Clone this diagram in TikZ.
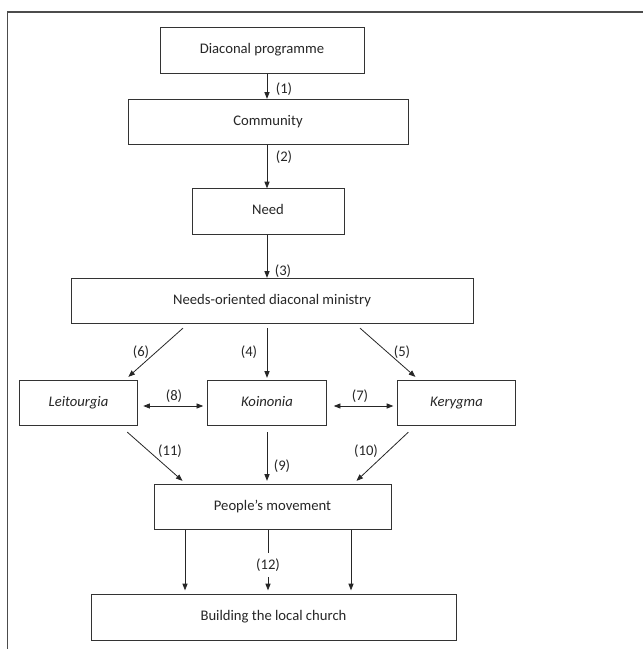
\documentclass[tikz,border=0pt]{standalone}
\usepackage{fontspec}
\setmainfont{Carlito}
\usetikzlibrary{arrows.meta,calc,positioning}

\begin{document}
\begin{tikzpicture}[
    x=0.75pt, y=-0.75pt,
    every node/.style={font=\fontsize{11}{13}\selectfont, text=black!85},
    box/.style={draw=black!80, line width=0.7pt, minimum height=34pt, inner sep=0pt,
        text height=7.5pt, text depth=2.5pt, align=center},
    lbl/.style={inner sep=1pt},
    arrow/.style={-{Triangle[length=5pt,width=3.8pt]}, line width=0.6pt, draw=black!85},
    twoway/.style={{Triangle[length=5pt,width=3.8pt]}-{Triangle[length=5pt,width=3.8pt]}, line width=0.6pt, draw=black!85}
]
    \useasboundingbox (0,0) rectangle (643,649);
    % open frame
    \draw[black!70, line width=1.1pt] (7.5,649) -- (7.5,12) -- (643,12);
    \coordinate (axis) at (267,0);

    % Chain
    \node[box, minimum width=153pt] (prog) at (262,50.5) {Diaconal programme};
    \node[box, minimum width=210pt] (comm) at (268,122) {Community};
    \node[box, minimum width=114pt] (need) at (268,211.5) {Need};
    \node[box, minimum width=301.5pt] (ndm) at (272,301) {Needs-oriented diaconal ministry};

    % Three ministries
    \node[box, minimum width=89pt] (leit) at (78.5,403) {\textit{Leitourgia}};
    \node[box, minimum width=89pt] (koin) at (267,403) {\textit{Koinonia}};
    \node[box, minimum width=88pt] (kery) at (456.5,403) {\textit{Kerygma}};

    % Outcome
    \node[box, minimum width=177.75pt] (ppl) at (272.5,507) {People’s movement};
    \node[box, minimum width=273.75pt] (build) at (273.5,617.5) {Building the local church};

    % Labels
    \node[lbl] (l1) at (284,89) {(1)};
    \node[lbl] (l2) at (284,157) {(2)};
    \node[lbl] (l3) at (283,271) {(3)};
    \node[lbl] (l6) at (141,352) {(6)};
    \node[lbl] (l4) at (249,352) {(4)};
    \node[lbl] (l5) at (402,352) {(5)};
    \node[lbl] (l8) at (174,396) {(8)};
    \node[lbl] (l7) at (360,396) {(7)};
    \node[lbl] (l11) at (170,451) {(11)};
    \node[lbl] (l9) at (282,466) {(9)};
    \node[lbl] (l10) at (366,451) {(10)};

    % Arrows
    \draw[arrow] (prog.south -| axis) -- (comm.north -| axis);
    \draw[arrow] (comm.south -| axis) -- (need.north -| axis);
    \draw[arrow] (need.south -| axis) -- (ndm.north -| axis);
    \draw[arrow] ($(ndm.south)+(-89,4)$) -- ($(leit.north east)+(-10,-3)$);
    \draw[arrow, shorten <=3pt, shorten >=1.5pt] (ndm.south -| koin) -- (koin.north);
    \draw[arrow] ($(ndm.south)+(88,4)$) -- ($(kery.north west)+(18,-3)$);
    \draw[twoway] ($(leit.east)+(5,3)$) -- ($(koin.west)+(-4,3)$);
    \draw[twoway] ($(koin.east)+(7,3)$) -- ($(kery.west)+(-4,3)$);
    \draw[arrow] ($(leit.south east)+(-11,6)$) -- ($(ppl.north west)+(29,-3)$);
    \draw[arrow] ($(koin.south)+(0,6)$) -- ($(ppl.north -| koin)+(0,-3)$);
    \draw[arrow] ($(kery.south west)+(11,6)$) -- ($(ppl.north east)+(-35,-3)$);
    \foreach \dx in {-87.5,-4.5,78.5}
        \draw[arrow, shorten >=3pt] ($(ppl.south)+(\dx,0)$) coordinate (top) -- (top |- build.north);
    \node[lbl, fill=white, inner ysep=4.5pt] (l12) at (268,565) {(12)};
\end{tikzpicture}
\end{document}
